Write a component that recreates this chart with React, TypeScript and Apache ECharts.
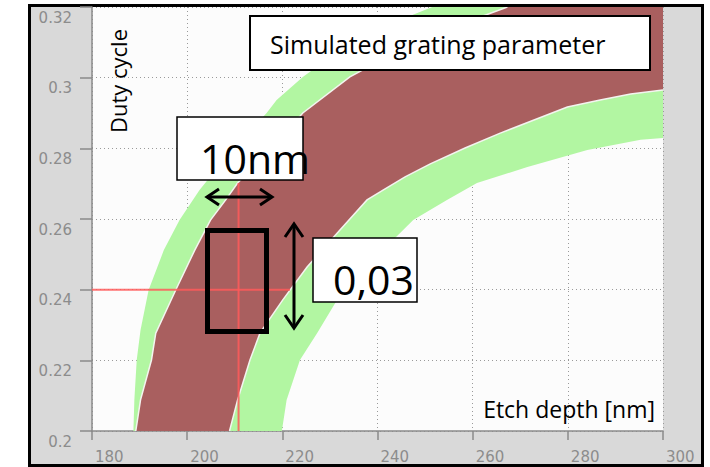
import React, { useEffect, useRef } from "react";
import * as echarts from "echarts";

// Axis ticks
const xTicks = [180, 200, 220, 240, 260, 280, 300];
const yTicks = [0.2, 0.22, 0.24, 0.26, 0.28, 0.3, 0.32];

// Region boundaries: [etch depth (nm), duty cycle]
const greenUpperEdge = [
  [188.7, 0.2], [188.9, 0.2088], [189.4, 0.2201], [190.2, 0.2286], [191.9, 0.2399],
  [195.1, 0.2512], [198.4, 0.2597], [202.6, 0.2682], [209.4, 0.2795], [216.7, 0.29],
  [218.8, 0.2937], [224.3, 0.3002], [232.1, 0.3078], [239.5, 0.3135], [251.5, 0.32],
];
const darkUpperEdge = [
  [189.2, 0.2], [190.2, 0.2088], [192.5, 0.2201], [193.4, 0.2277], [197.6, 0.2399],
  [201.6, 0.2512], [204.9, 0.2597], [208.1, 0.2654], [210.6, 0.2702], [217.4, 0.2795],
  [224.3, 0.29], [234.2, 0.3002], [244.7, 0.3078], [254.2, 0.3135], [267.3, 0.32],
];
const darkLowerEdge = [
  [208.9, 0.2], [210.6, 0.2088], [213.2, 0.2201], [215.3, 0.2277], [220.1, 0.2371],
  [225.2, 0.2464], [231.5, 0.256], [237.8, 0.2654], [241.6, 0.2685], [245.8, 0.2719],
  [251.1, 0.2756], [258.4, 0.2801], [265.8, 0.2843], [279.9, 0.2917], [286.8, 0.2937],
  [293.2, 0.2954], [300, 0.2965],
];
const greenLowerEdge = [
  [219.9, 0.2], [220.9, 0.2088], [223.7, 0.2201], [227.3, 0.2277], [231.5, 0.2371],
  [237.4, 0.2464], [244.7, 0.256], [247.5, 0.2597], [254.6, 0.2654], [260.9, 0.2702],
  [271.5, 0.2747], [284.1, 0.2795], [295.3, 0.2824], [300, 0.2829],
];
const topRightCorner = [300, 0.32];

// Crosshair
const crossHorizontal = [[180, 0.24], [221.6, 0.24]];
const crossVertical = [[210.8, 0.2], [210.8, 0.2702]];

const GREEN = "#b2f6a2";
const DARK = "#a95f5f";

const greenPolygon = [...greenUpperEdge, topRightCorner, ...[...greenLowerEdge].reverse()];
const darkPolygon = [...darkUpperEdge, topRightCorner, ...[...darkLowerEdge].reverse()];

const FONT = '"Open Sans", "Noto Sans", sans-serif';

export default function App() {
  const ref = useRef<HTMLDivElement>(null);
  useEffect(() => {
    if (!ref.current) return;
    const chart = echarts.init(ref.current, null, { renderer: "svg" });
    const axisColor = "#8a8a8a";
    const option: any = {
      animation: false,
      backgroundColor: "transparent",
      grid: {
        left: 92, right: 47, top: 7, bottom: 36,
        show: true, backgroundColor: "#fcfcfc", borderWidth: 0,
      },
      xAxis: {
        type: "value", min: xTicks[0], max: xTicks[xTicks.length - 1], interval: 20,
        axisLine: { show: true, onZero: false, lineStyle: { color: axisColor, width: 1.5 } },
        axisTick: { show: true, length: 9, lineStyle: { color: axisColor, width: 1.5 } },
        axisLabel: {
          color: "#8c8c8c", fontFamily: "DejaVu Sans", fontSize: 15,
          align: "left", margin: 18, padding: [0, 0, 0, 3],
          showMinLabel: true, showMaxLabel: true,
        },
        splitLine: { show: true, lineStyle: { color: "#9a9a9a", type: [1, 3], width: 1 } },
      },
      yAxis: {
        type: "value", min: yTicks[0], max: yTicks[yTicks.length - 1], interval: 0.02,
        axisLine: { show: true, onZero: false, lineStyle: { color: axisColor, width: 1.5 } },
        axisTick: { show: true, length: 12, lineStyle: { color: axisColor, width: 1.5 } },
        axisLabel: {
          color: "#8c8c8c", fontFamily: "DejaVu Sans", fontSize: 15,
          margin: 20, verticalAlign: "top", padding: [3, 0, 0, 0],
          formatter: (v: number) => String(Math.round(v * 100) / 100),
          showMinLabel: true, showMaxLabel: true,
        },
        splitLine: { show: true, lineStyle: { color: "#9a9a9a", type: [1, 3], width: 1 } },
      },
      series: [
        {
          type: "custom", silent: true, clip: true, z: 2,
          data: [[200, 0.25]],
          renderItem: (_p: any, api: any) => ({
            type: "polygon",
            shape: { points: greenPolygon.map((pt) => api.coord(pt)) },
            style: { fill: GREEN },
          }),
        },
        {
          type: "custom", silent: true, clip: true, z: 3,
          data: [[200, 0.25]],
          renderItem: (_p: any, api: any) => ({
            type: "group",
            children: [
              {
                type: "polygon",
                shape: { points: darkPolygon.map((pt) => api.coord(pt)) },
                style: { fill: DARK },
              },
              {
                type: "polyline",
                shape: { points: darkUpperEdge.map((pt) => api.coord(pt)) },
                style: { stroke: "#f4f4f0", lineWidth: 1.5, fill: null },
              },
              {
                type: "polyline",
                shape: { points: darkLowerEdge.map((pt) => api.coord(pt)) },
                style: { stroke: "#f4f4f0", lineWidth: 1.5, fill: null },
              },
            ],
          }),
        },
        {
          type: "line", data: crossHorizontal, showSymbol: false, symbol: "none", z: 4, silent: true,
          lineStyle: { color: "rgba(255,90,90,0.85)", width: 2 },
        },
        {
          type: "line", data: crossVertical, showSymbol: false, symbol: "none", z: 4, silent: true,
          lineStyle: { color: "rgba(255,90,90,0.85)", width: 2 },
        },
      ],
      graphic: [
        {
          type: "text", z: 100, x: 118, y: 81, rotation: Math.PI / 2,
          style: { text: "Duty cycle", fill: "#000", font: `22px ${FONT}`, textAlign: "center", textVerticalAlign: "middle" },
        },
        {
          type: "text", z: 100, x: 655, y: 409,
          style: { text: "Etch depth [nm]", fill: "#000", font: `23px ${FONT}`, textAlign: "right", textVerticalAlign: "middle" },
        },
        {
          type: "rect", z: 100, shape: { x: 250, y: 16, width: 400, height: 54 },
          style: { fill: "#fff", stroke: "#000", lineWidth: 2 },
        },
        {
          type: "text", z: 101, x: 270, y: 44,
          style: { text: "Simulated grating parameter", fill: "#000", font: `25px ${FONT}`, textAlign: "left", textVerticalAlign: "middle" },
        },
        {
          type: "rect", z: 100, shape: { x: 177, y: 117, width: 126, height: 63 },
          style: { fill: "#fff", stroke: "#000", lineWidth: 1.5 },
        },
        {
          type: "text", z: 101, x: 200, y: 158,
          style: { text: "10nm", fill: "#000", font: `41px ${FONT}`, textAlign: "left", textVerticalAlign: "middle" },
        },
        {
          type: "rect", z: 100, shape: { x: 313, y: 238, width: 104, height: 64 },
          style: { fill: "#fff", stroke: "#000", lineWidth: 1.5 },
        },
        {
          type: "text", z: 101, x: 333, y: 279,
          style: { text: "0,03", fill: "#000", font: `41px ${FONT}`, textAlign: "left", textVerticalAlign: "middle" },
        },
        {
          type: "line", z: 100, shape: { x1: 207, y1: 197, x2: 272, y2: 197 },
          style: { stroke: "#000", lineWidth: 3 },
        },
        {
          type: "polyline", z: 100, shape: { points: [[219, 189], [207, 197], [219, 205]] },
          style: { stroke: "#000", lineWidth: 3, fill: null },
        },
        {
          type: "polyline", z: 100, shape: { points: [[260, 189], [272, 197], [260, 205]] },
          style: { stroke: "#000", lineWidth: 3, fill: null },
        },
        {
          type: "line", z: 100, shape: { x1: 294, y1: 224, x2: 294, y2: 328 },
          style: { stroke: "#000", lineWidth: 3 },
        },
        {
          type: "polyline", z: 100, shape: { points: [[285, 237], [294, 224], [303, 237]] },
          style: { stroke: "#000", lineWidth: 3, fill: null },
        },
        {
          type: "polyline", z: 100, shape: { points: [[285, 315], [294, 328], [303, 315]] },
          style: { stroke: "#000", lineWidth: 3, fill: null },
        },
        {
          type: "rect", z: 100, shape: { x: 207.5, y: 230.5, width: 59, height: 101 },
          style: { fill: null, stroke: "#000", lineWidth: 5 },
        },
      ],
    };
    chart.setOption(option);
    return () => chart.dispose();
  }, []);

  return (
    <div style={{ position: "fixed", left: 0, top: 0, width: 710, height: 467, background: "#fff" }}>
      <div
        style={{
          position: "absolute", left: 28, top: 4, width: 676, height: 463,
          boxSizing: "border-box", border: "3px solid #000", background: "#d9d9d9",
        }}
      />
      <div ref={ref} style={{ position: "absolute", left: 0, top: 0, width: 710, height: 467 }} />
    </div>
  );
}
